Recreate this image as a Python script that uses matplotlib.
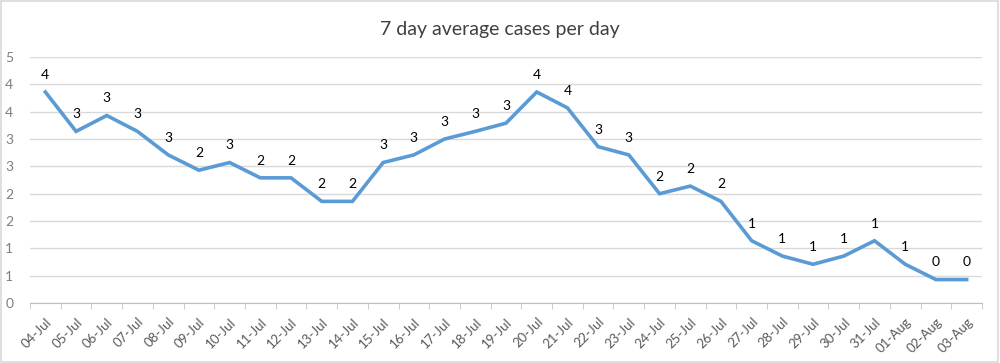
import numpy as np
from matplotlib import pyplot as plt
from matplotlib import ticker
from matplotlib.patches import Rectangle

plt.rcParams['font.family'] = ['Lato', 'DejaVu Sans']

# 7 day rolling average
dates = ['04-Jul', '05-Jul', '06-Jul', '07-Jul', '08-Jul', '09-Jul', '10-Jul', '11-Jul',
         '12-Jul', '13-Jul', '14-Jul', '15-Jul', '16-Jul', '17-Jul', '18-Jul', '19-Jul',
         '20-Jul', '21-Jul', '22-Jul', '23-Jul', '24-Jul', '25-Jul', '26-Jul', '27-Jul',
         '28-Jul', '29-Jul', '30-Jul', '31-Jul', '01-Aug', '02-Aug', '03-Aug']
avg_cases = [3.86, 3.14, 3.43, 3.14, 2.71, 2.43, 2.57, 2.29,
             2.29, 1.86, 1.86, 2.57, 2.71, 3.00, 3.14, 3.29,
             3.86, 3.57, 2.86, 2.71, 2.00, 2.14, 1.86, 1.14,
             0.86, 0.71, 0.86, 1.14, 0.71, 0.43, 0.43]

title = '7 day average cases per day'


def excel_round(v):
  # excel "0" format rounds halves away from zero
  return str(int(np.floor(v + 0.5 + 1e-9)))


fig = plt.figure(figsize=(10, 3.63), dpi=100)
ax = fig.add_axes([0.03, 0.165, 0.952, 0.678])

x = np.arange(len(dates))
ax.plot(x, avg_cases, color='#5B9BD5', lw=2.6, solid_joinstyle='miter', zorder=3)

for xi, v in zip(x, avg_cases):
  ax.annotate(excel_round(v), (xi, v), xytext=(0, 8), textcoords='offset points',
              ha='center', va='bottom', fontsize=10, color='black')

ax.set_xlim(-0.5, len(dates) - 0.5)
ax.set_ylim(0, 4.5)
ax.yaxis.set_major_locator(ticker.MultipleLocator(0.5))
ax.yaxis.set_major_formatter(ticker.FuncFormatter(lambda v, p: excel_round(v)))
ax.grid(axis='y', color='#D9D9D9', lw=1)
ax.set_axisbelow(True)

ax.set_xticks(x)
ax.set_xticklabels(dates, rotation=45, ha='right', rotation_mode='anchor')
ax.set_xticks(np.arange(len(dates) + 1) - 0.5, minor=True)
ax.tick_params(axis='x', which='major', length=0, pad=9, labelsize=9.5, labelcolor='#595959')
ax.tick_params(axis='x', which='minor', length=4, color='#BFBFBF', direction='out')
ax.tick_params(axis='y', length=0, pad=12, labelsize=10, labelcolor='#7F7F7F')

for s in ['top', 'right', 'left']:
  ax.spines[s].set_visible(False)
ax.spines['bottom'].set_color('#BFBFBF')

fig.text(0.5, 0.92, title, ha='center', va='center', fontsize=14, color='#404040')

fig.patches.append(Rectangle((0.001, 0.002), 0.997, 0.995, transform=fig.transFigure,
                             fill=False, edgecolor='#D9D9D9', lw=1.2))

fig.savefig('out.png', dpi=100, facecolor='white')
